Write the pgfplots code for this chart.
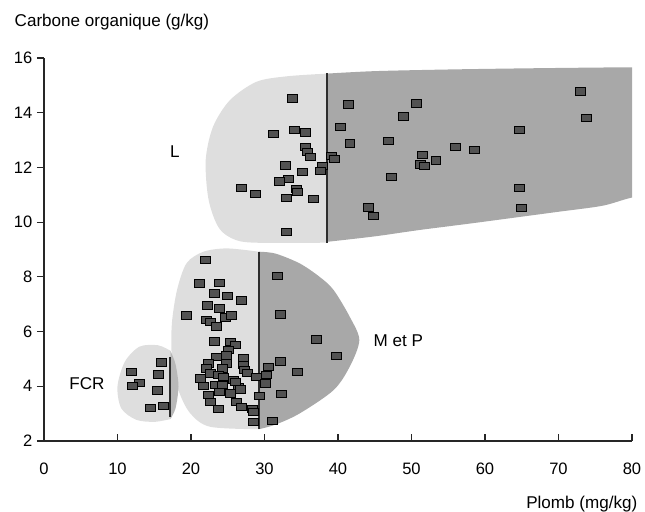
\documentclass[border=0pt]{standalone}
\usepackage{fontspec}
\setmainfont{Liberation Sans}
\usepackage{pgfplots}
\pgfplotsset{compat=1.18}
\definecolor{lightreg}{RGB}{222,222,222}
\definecolor{darkreg}{RGB}{168,168,168}
\definecolor{markc}{RGB}{82,82,82}
\definecolor{linec}{RGB}{45,45,45}
\newcommand{\lfont}{\fontsize{12.4}{14}\selectfont}
\newcommand{\afont}{\fontsize{12.8}{14}\selectfont}
\begin{document}
\begin{tikzpicture}
\begin{axis}[
  at={(0,0)}, anchor=south west,
  scale only axis, width=441pt, height=287.25pt,
  xmin=0, xmax=80, ymin=2, ymax=16,
  axis lines=left,
  axis line style={-, line width=0.8pt, black!85},
  xtick={0,10,...,80}, ytick={2,4,...,16},
  xtick align=inside, ytick align=outside,
  major tick length=5.25pt,
  tick style={line width=0.8pt, black!85},
  tick label style={font=\lfont},
  /pgf/number format/assume math mode=true,
  xticklabel style={yshift=-13pt},
  xlabel={Plomb (mg/kg)},
  ylabel={Carbone organique (g/kg)},
  every axis y label/.style={at={(axis description cs:-0.0578,1.094)}, anchor=west, font=\afont},
  every axis x label/.style={at={(axis description cs:1.017,-0.164)}, anchor=east, font=\afont},
]
% regions
\addplot[draw=none, fill=lightreg, smooth] coordinates {
 (38.5,9.25) (32,9.24) (26.7,9.3) (23.9,9.75) (22.4,10.81) (22.0,12.27) (23.0,13.49) (25.3,14.46) (28.9,15.13) (33,15.33) (38.5,15.43)
} -- cycle;
\addplot[draw=none, fill=darkreg, smooth] coordinates {
 (38.5,15.43) (45,15.52) (55,15.58) (65,15.62) (75,15.65) (80,15.66) (90,15.68) (100,15.7) (100,11.8) (86,11.2) (80,10.9) (76,10.6) (70,10.38) (65,10.2) (58,9.95) (51,9.71) (45,9.48) (38.5,9.28)
} -- cycle;
\addplot[draw=none, fill=lightreg, smooth] coordinates {
 (29.2,2.43) (22.6,2.52) (19.9,3.01) (18.3,3.86) (17.4,5.08) (17.4,6.3) (18.1,7.52) (19.4,8.5) (21.7,8.92) (24.9,9.04) (29.2,8.92)
} -- cycle;
\addplot[draw=none, fill=darkreg, smooth] coordinates {
 (29.2,8.92) (31.5,8.85) (34.8,8.49) (37.5,8.0) (39.4,7.52) (41.6,6.54) (42.9,5.69) (41.6,4.72) (39.4,3.86) (34.8,3.01) (31.5,2.6) (29.2,2.43)
} -- cycle;
\addplot[draw=none, fill=lightreg, smooth] coordinates {
 (17.2,2.8) (15,2.7) (12.5,2.78) (10.5,3.2) (10,4) (11,4.9) (13,5.45) (15.5,5.5) (17.2,5.3)
} -- cycle;
\addplot[draw=none, fill=darkreg!70!lightreg, smooth] coordinates {
 (17.2,5.3) (17.9,4.8) (18.3,4.0) (17.9,3.2) (17.2,2.8)
} -- cycle;
% points
\addplot[only marks, mark=square*, mark size=2.75pt, mark options={xscale=1.36, fill=markc, draw=none}] coordinates {
 (33.8,14.53) (31.2,13.22) (34.0,13.37) (35.6,13.29) (35.5,12.76) (35.8,12.57) (36.2,12.38) (39.1,12.42)
 (32.8,12.08) (35.1,11.84) (37.8,12.05) (37.6,11.88) (33.2,11.59) (32.0,11.49) (34.3,11.22) (34.5,11.10)
 (26.8,11.25) (28.7,11.04) (32.9,10.88) (36.6,10.86) (32.9,9.65) (41.4,14.31) (50.6,14.34) (48.9,13.87)
 (40.3,13.48) (41.6,12.88) (46.9,12.97) (39.5,12.32) (51.5,12.46) (53.3,12.26) (51.2,12.11) (51.8,12.06)
 (55.9,12.75) (58.5,12.65) (47.2,11.66) (64.6,13.37) (72.9,14.78) (73.8,13.81) (64.6,11.25) (65.0,10.53)
 (44.1,10.54) (44.8,10.23)
 (15.9,4.88) (11.9,4.52) (15.6,4.44) (12.9,4.13) (12.0,4.01) (15.4,3.85) (14.4,3.22) (16.2,3.30)
 (21.9,8.62) (21.1,7.76) (23.8,7.79) (23.2,7.40) (24.9,7.32) (26.9,7.15) (22.2,6.96) (23.8,6.85)
 (19.4,6.60) (24.6,6.52) (25.5,6.60) (22.1,6.42) (22.6,6.35) (23.4,6.20) (23.2,5.65) (25.3,5.63)
 (26.0,5.51) (25.1,5.33) (24.8,5.14) (23.5,5.08) (27.1,5.02) (22.4,4.84) (24.8,4.84) (27.1,4.78)
 (22.1,4.66) (24.2,4.66) (27.3,4.60) (22.6,4.47) (21.2,4.29) (23.7,4.41) (24.4,4.35) (27.6,4.50)
 (25.8,4.23) (23.3,4.05) (24.2,4.05) (26.4,3.98) (26.0,4.17) (23.9,3.80) (25.3,3.74) (26.7,3.89)
 (22.4,3.68) (22.6,3.44) (23.7,3.19) (26.2,3.44) (26.9,3.25) (28.3,3.19) (28.5,2.71) (28.5,3.07)
 (21.7,4.01)
 (28.9,4.35) (30.3,4.41) (30.1,4.11) (30.5,4.72) (29.3,3.66) (32.1,4.92) (34.5,4.53) (32.3,3.72)
 (31.1,2.73) (31.7,8.03) (32.2,6.63) (37.0,5.72) (39.8,5.11)
};
% divider lines
\addplot[linec, line width=1.5pt] coordinates {(38.5,9.25) (38.5,15.45)};
\addplot[linec, line width=1.5pt] coordinates {(29.2,2.43) (29.2,8.92)};
\addplot[linec, line width=1.5pt] coordinates {(17.2,2.87) (17.2,5.08)};
\node[font=\afont] at (axis cs:17.8,12.56) {L};
\node[font=\afont] at (axis cs:48.2,5.65) {M et P};
\node[font=\afont] at (axis cs:5.85,4.08) {FCR};
\end{axis}
\pgfresetboundingbox
\useasboundingbox (-33pt,-52.5pt) rectangle (450.75pt,330.75pt);
\end{tikzpicture}
\end{document}
